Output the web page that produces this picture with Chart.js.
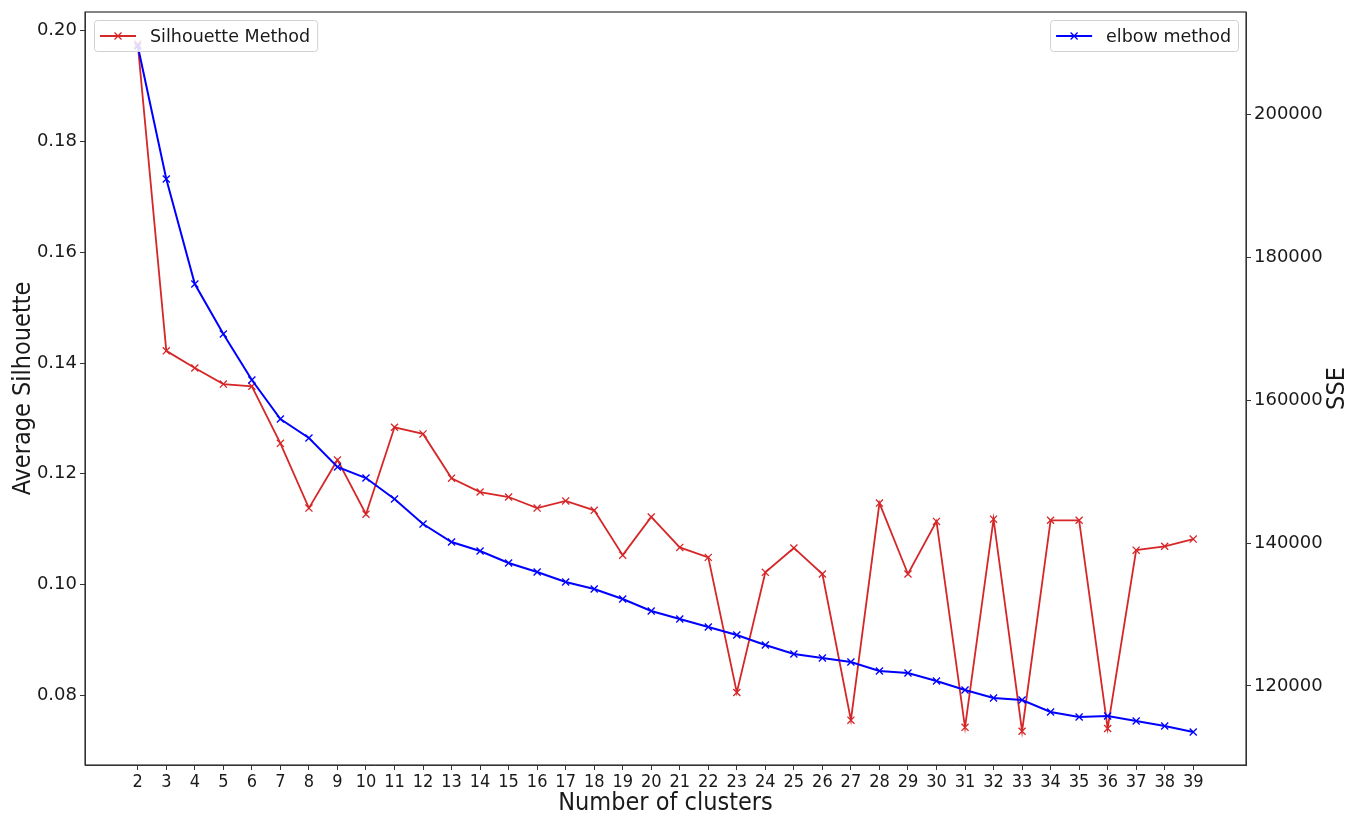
<!DOCTYPE html>
<html>
<head>
<meta charset="utf-8">
<script src="https://cdn.jsdelivr.net/npm/chart.js@4/dist/chart.umd.min.js"></script>
<style>
  html, body { margin: 0; padding: 0; background: #fff; }
  #wrap { width: 1359px; height: 814px; }
</style>
</head>
<body>
<div id="wrap"><canvas id="chart"></canvas></div>
<script>
// number of clusters k
const clusters = [2, 3, 4, 5, 6, 7, 8, 9, 10, 11, 12, 13, 14, 15, 16, 17, 18, 19, 20,
  21, 22, 23, 24, 25, 26, 27, 28, 29, 30, 31, 32, 33, 34, 35, 36, 37, 38, 39];

// mean silhouette score per k
const silhouette = [0.1976, 0.1422, 0.1391, 0.1362, 0.1358, 0.1255, 0.1138, 0.1225, 0.1127,
  0.1284, 0.1272, 0.1192, 0.1167, 0.1158, 0.1138, 0.1151, 0.1134, 0.1053, 0.1122,
  0.1067, 0.1049, 0.0805, 0.1022, 0.1066, 0.1019, 0.0755, 0.1147, 0.1019, 0.1114,
  0.0742, 0.1118, 0.0735, 0.1116, 0.1116, 0.0740, 0.1062, 0.1069, 0.1082];

// sum of squared errors per k
const sse = [209510, 190910, 176220, 169230, 162800, 157340, 154690, 150630, 149090,
  146150, 142660, 140140, 138880, 137200, 135940, 134550, 133570, 132170, 130490,
  129370, 128250, 127130, 125730, 124480, 123920, 123360, 122100, 121820, 120700,
  119440, 118320, 118040, 116360, 115660, 115800, 115100, 114410, 113570];

const silTicks = [0.08, 0.10, 0.12, 0.14, 0.16, 0.18, 0.20];
const sseTicks = [120000, 140000, 160000, 180000, 200000];

const RED = '#d62728';
const BLUE = '#0000ff';
const INK = '#1a1a1a';
const tickFont = { family: 'DejaVu Sans, Verdana, sans-serif', size: 18 };
const condensed = '"DejaVu Sans Condensed", "Liberation Sans Narrow", "DejaVu Sans", sans-serif';

const setTicks = list => scale => { scale.ticks = list.map(v => ({ value: v })); };
// fixed-width y axes; tick labels never reach the ends, so no extra end padding
const fixWidth = w => s => { s.width = w; s.paddingTop = 0; s.paddingBottom = 0; };

// matplotlib-style frame around the plot area, plus the right-hand axis title
// (read bottom-to-top like the left one)
const framePlugin = {
  id: 'frame',
  afterDraw(chart) {
    const { ctx, chartArea: a } = chart;
    ctx.save();
    ctx.strokeStyle = '#333';
    ctx.lineWidth = 1.2;
    ctx.strokeRect(a.left, a.top, a.right - a.left, a.bottom - a.top);
    ctx.translate(1337, (a.top + a.bottom) / 2);
    ctx.rotate(-Math.PI / 2);
    ctx.font = '25px ' + condensed;
    ctx.fillStyle = INK;
    ctx.textAlign = 'center';
    ctx.textBaseline = 'middle';
    ctx.fillText('SSE', 0, 0);
    ctx.restore();
  }
};

// one boxed legend per series, placed in the corners of the plot
const cornerLegends = {
  id: 'cornerLegends',
  afterDraw(chart) {
    const { ctx, chartArea: a } = chart;
    ctx.save();
    ctx.font = '17.5px "DejaVu Sans", Verdana, sans-serif';
    chart.data.datasets.forEach(ds => {
      const tw = ctx.measureText(ds.label).width;
      const w = tw + 63, h = 31;
      const x = ds.legendCorner === 'left' ? a.left + 9 : a.right - 8 - w;
      const y = a.top + 8;
      ctx.fillStyle = 'rgba(255,255,255,0.85)';
      ctx.strokeStyle = '#d0d0d0';
      ctx.lineWidth = 1;
      ctx.beginPath();
      ctx.roundRect(x + 0.5, y + 0.5, w, h, 3);
      ctx.fill();
      ctx.stroke();
      const cy = y + h / 2 + 0.5;
      ctx.strokeStyle = ds.borderColor;
      ctx.lineWidth = ds.borderWidth;
      ctx.beginPath();
      ctx.moveTo(x + 6, cy);
      ctx.lineTo(x + 42, cy);
      ctx.stroke();
      const mx = x + 24, r = 3.5;
      ctx.lineWidth = 1.3;
      ctx.beginPath();
      ctx.moveTo(mx - r, cy - r); ctx.lineTo(mx + r, cy + r);
      ctx.moveTo(mx - r, cy + r); ctx.lineTo(mx + r, cy - r);
      ctx.stroke();
      ctx.fillStyle = INK;
      ctx.textBaseline = 'middle';
      ctx.fillText(ds.label, x + 56, cy + 1);
    });
    ctx.restore();
  }
};

new Chart(document.getElementById('chart').getContext('2d'), {
  type: 'line',
  data: {
    datasets: [
      {
        label: 'Silhouette Method',
        legendCorner: 'left',
        data: clusters.map((k, i) => ({ x: k, y: silhouette[i] })),
        yAxisID: 'ySil',
        borderColor: RED,
        backgroundColor: RED,
        borderWidth: 1.8,
        pointStyle: 'crossRot',
        pointRadius: 5,
        pointBorderWidth: 1.3,
        pointBorderColor: RED,
        tension: 0,
        order: 2
      },
      {
        label: 'elbow method',
        legendCorner: 'right',
        data: clusters.map((k, i) => ({ x: k, y: sse[i] })),
        yAxisID: 'ySse',
        borderColor: BLUE,
        backgroundColor: BLUE,
        borderWidth: 2,
        pointStyle: 'crossRot',
        pointRadius: 5,
        pointBorderWidth: 1.3,
        pointBorderColor: BLUE,
        tension: 0,
        order: 1
      }
    ]
  },
  options: {
    responsive: true,
    maintainAspectRatio: false,
    animation: false,
    layout: { padding: { top: 12, right: 0, bottom: 0, left: 0 } },
    plugins: {
      legend: { display: false },
      tooltip: { enabled: false }
    },
    scales: {
      x: {
        type: 'linear',
        min: 0.15,
        max: 40.85,
        afterBuildTicks: setTicks(clusters),
        afterFit: s => { s.height = 49; },
        grid: { drawOnChartArea: false, drawTicks: true, tickLength: 5, color: '#333' },
        border: { display: true, color: '#333' },
        ticks: {
          font: { family: condensed, size: 18 },
          color: INK,
          padding: 2,
          maxRotation: 0,
          autoSkip: false,
          callback: v => String(v)
        },
        title: {
          display: true,
          text: 'Number of clusters',
          font: { family: condensed, size: 25 },
          color: INK,
          padding: { top: 2, bottom: -4 }
        }
      },
      ySil: {
        type: 'linear',
        position: 'left',
        min: 0.0674,
        max: 0.2034,
        afterBuildTicks: setTicks(silTicks),
        afterFit: fixWidth(85),
        grid: { drawOnChartArea: false, drawTicks: true, tickLength: 5, color: '#333' },
        border: { display: true, color: '#333' },
        ticks: {
          font: tickFont,
          color: INK,
          padding: 3,
          callback: v => v.toFixed(2)
        },
        title: {
          display: true,
          text: 'Average Silhouette',
          font: { family: condensed, size: 25 },
          color: INK,
          padding: { top: 8, bottom: 0 }
        }
      },
      ySse: {
        type: 'linear',
        position: 'right',
        min: 108950,
        max: 214270,
        afterBuildTicks: setTicks(sseTicks),
        afterFit: fixWidth(113),
        grid: { drawOnChartArea: false, drawTicks: true, tickLength: 5, color: '#333' },
        border: { display: true, color: '#333' },
        ticks: {
          font: tickFont,
          color: INK,
          padding: 3,
          callback: v => String(v)
        }
      }
    }
  },
  plugins: [framePlugin, cornerLegends]
});
</script>
</body>
</html>
